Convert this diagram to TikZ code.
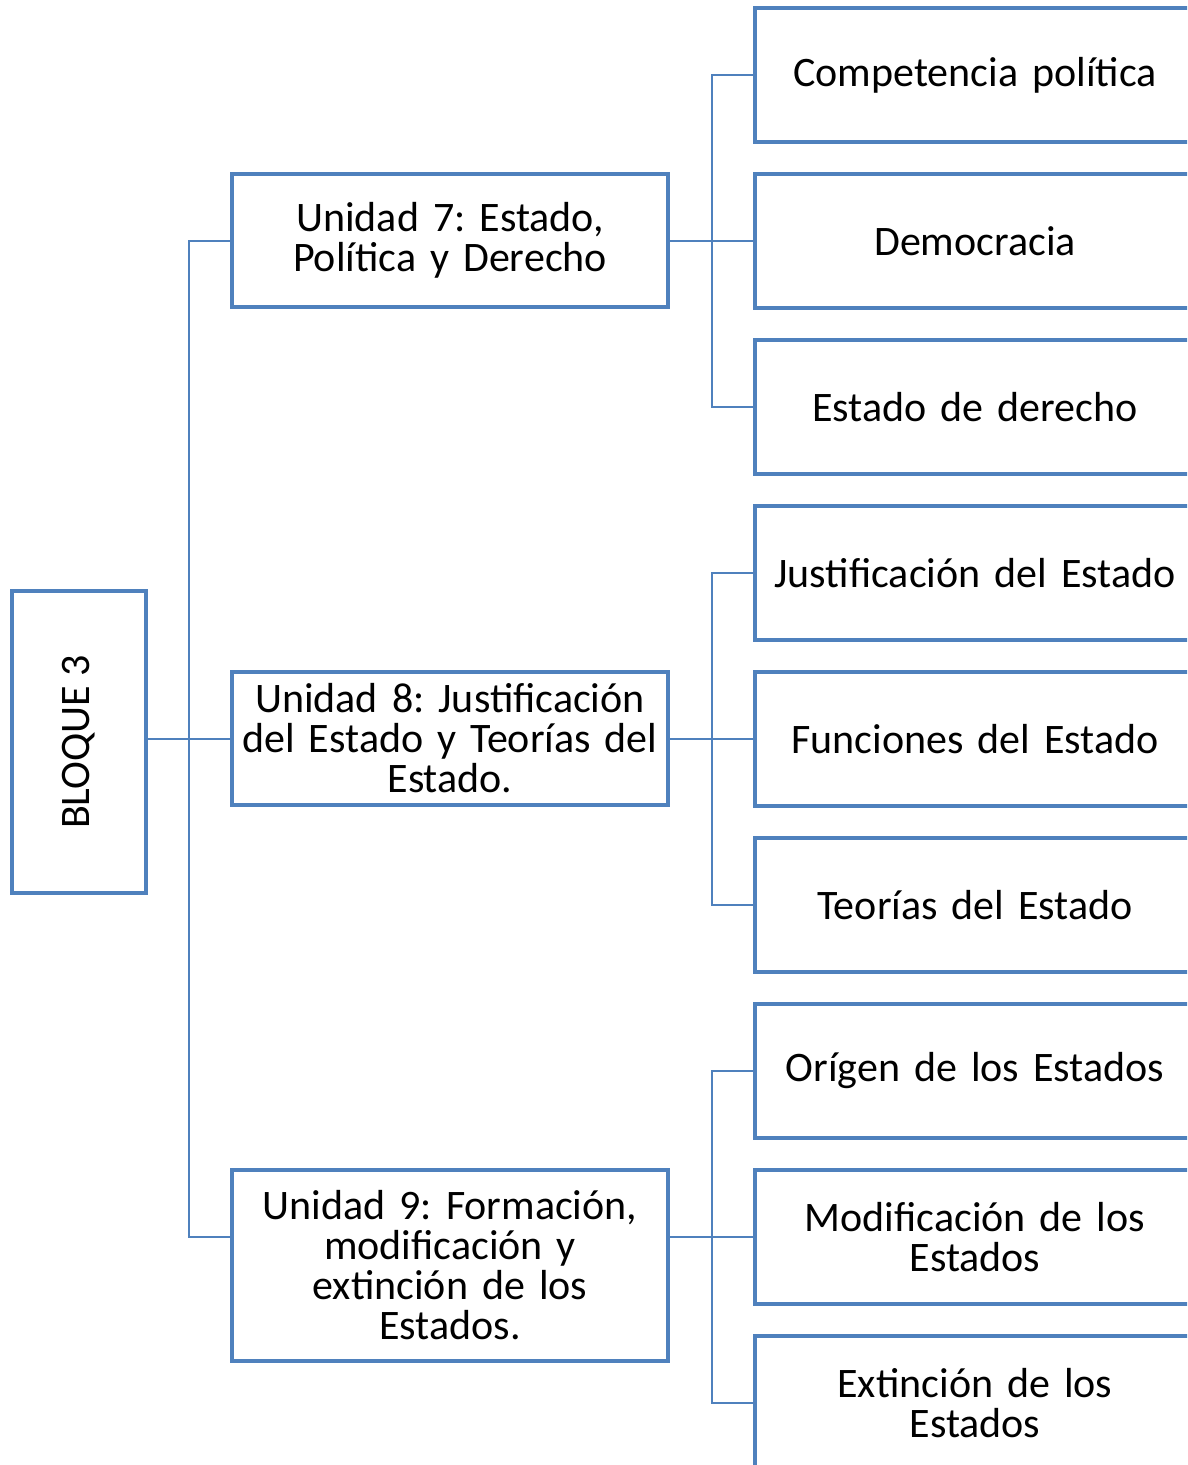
\documentclass[tikz,border=0pt]{standalone}
\usepackage{fontspec}
\setmainfont{Carlito}
\frenchspacing
\definecolor{boxblue}{HTML}{4F81BD}
\begin{document}
\begin{tikzpicture}[x=1pt,y=-1pt,
  box/.style={draw=boxblue, line width=4pt, fill=white, align=center, inner sep=0pt,
    font=\fontsize{42}{40}\selectfont},
  unitbox/.style={box, minimum width=436pt, text width=430pt},
  topicbox/.style={box, minimum width=440pt, minimum height=134pt, text width=430pt},
  link/.style={draw=boxblue, line width=2pt}
]
\useasboundingbox (0,0) rectangle (1187,1465);
\clip (0,0) rectangle (1187,1465);
\fill[white] (0,0) rectangle (1187,1465);

\node[box, minimum width=134pt, minimum height=302pt] (b) at (79,742) {};
\node[rotate=90, font=\fontsize{42}{40}\selectfont] (bt) at (79,742) {BLOQUE 3};

\node[unitbox, minimum height=133pt] (u7) at (450,240.5) {Unidad 7: Estado,\\Política y Derecho};
\node[unitbox, minimum height=133pt] (u8) at (450,738.5) {Unidad 8: Justificación\\del Estado y Teorías del\\Estado.};
\node[unitbox, minimum height=191pt] (u9) at (450,1265.5) {Unidad 9: Formación,\\modificación y\\extinción de los\\Estados.};

\node[topicbox] (r1) at (975,75) {Competencia política};
\node[topicbox] (r2) at (975,241) {Democracia};
\node[topicbox] (r3) at (975,407) {Estado de derecho};
\node[topicbox] (r4) at (975,573) {Justificación del Estado};
\node[topicbox] (r5) at (975,739) {Funciones del Estado};
\node[topicbox] (r6) at (975,905) {Teorías del Estado};
\node[topicbox] (r7) at (975,1071) {Orígen de los Estados};
\node[topicbox] (r8) at (975,1237) {Modificación de los\\Estados};
\node[topicbox] (r9) at (975,1403) {Extinción de los\\Estados};

% left tree
\coordinate (lx) at (189,0);
\draw[link] (b.east |- u8.west) -- (u8.west);
\draw[link] (u7.west) -- (lx |- u7.west) -- (lx |- r8.west) -- (u9.west |- r8.west);

% right trees
\coordinate (rx) at (712,0);
\draw[link] (u7.east |- r2.west) -- (r2.west);
\draw[link] (r1.west) -- (rx |- r1.west) -- (rx |- r3.west) -- (r3.west);
\draw[link] (u8.east |- r5.west) -- (r5.west);
\draw[link] (r4.west) -- (rx |- r4.west) -- (rx |- r6.west) -- (r6.west);
\draw[link] (u9.east |- r8.west) -- (r8.west);
\draw[link] (r7.west) -- (rx |- r7.west) -- (rx |- r9.west) -- (r9.west);
\end{tikzpicture}
\end{document}
